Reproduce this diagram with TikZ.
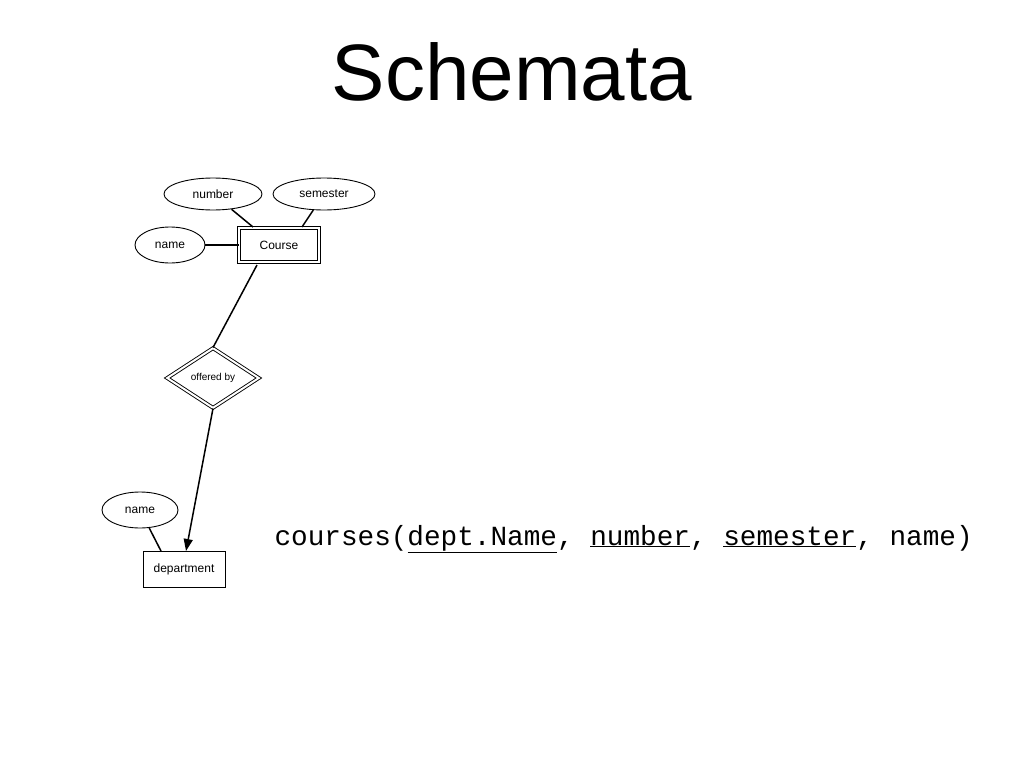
\documentclass[tikz,border=0pt]{standalone}
\usepackage{fontspec}
\setmainfont{Liberation Sans}
\newfontfamily\monof{Liberation Mono}
\usetikzlibrary{shapes.geometric,arrows.meta}
\begin{document}
\begin{tikzpicture}[x=1pt,y=-1pt,
  attr/.style={ellipse,draw,line width=0.9pt,inner sep=0pt,font=\fontsize{12}{14}\selectfont,fill=white},
  ent/.style={rectangle,draw,line width=0.9pt,inner sep=0pt,font=\fontsize{12}{14}\selectfont},
  conn/.style={line width=1.5pt}]
\useasboundingbox (0,0) rectangle (1024,768);
\node[font=\fontsize{80}{90}\selectfont] (title) at (512,72) {Schemata};
\node[attr,minimum width=98,minimum height=32] (num) at (213,194) {number};
\node[attr,minimum width=102,minimum height=32] (sem) at (324,194) {semester};
\node[attr,minimum width=70,minimum height=36] (nm) at (170,245) {name};
\node[ent,double,double distance=2pt,minimum width=80,minimum height=34] (course) at (279,245) {Course};
\node[diamond,draw,double,double distance=2pt,line width=0.9pt,minimum width=92,minimum height=60,inner sep=0pt,aspect=1.5,font=\fontsize{10}{12}\selectfont] (off) at (213,378) {offered by};
\node[attr,minimum width=76,minimum height=36] (nm2) at (140,510) {name};
\node[ent,minimum width=82,minimum height=36] (dept) at (184,569) {department};
\draw[conn] (num) -- (253,227);
\draw[conn] (sem) -- (302,227);
\draw[conn] (nm) -- (course.west);
\draw[conn] (257,265) -- (off.north);
\draw[conn,-{Triangle[length=12pt,width=9pt]}] (off.south) -- (186,551);
\draw[conn] (nm2) -- (161,551);
\node[anchor=base west,font=\monof\fontsize{27.7}{32}\selectfont] (rel) at (271,545)
 {courses(\underline{dept.Name}, \underline{number}, \underline{semester}, name)};
\end{tikzpicture}
\end{document}
